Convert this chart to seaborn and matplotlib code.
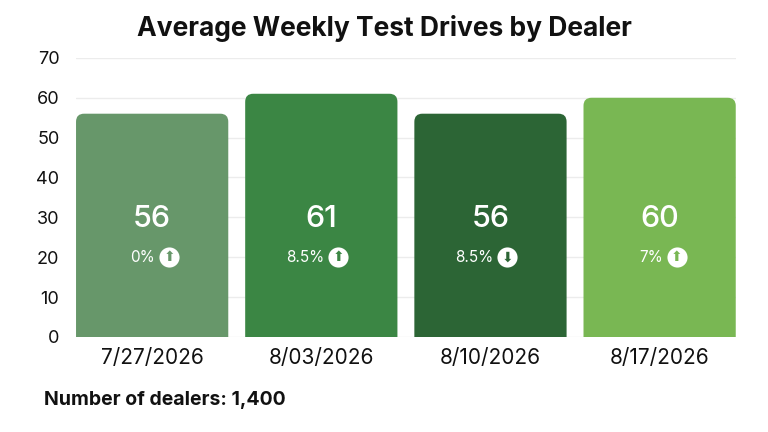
import matplotlib
matplotlib.use("Agg")
import matplotlib.pyplot as plt
import matplotlib.transforms as mtransforms
from matplotlib.patches import FancyBboxPatch
import seaborn as sns
import pandas as pd

# ===== data =====
weeks = ["7/27/2026", "8/03/2026", "8/10/2026", "8/17/2026"]
avg_drives = [56, 61, 56, 60]
pct_change = ["0%", "8.5%", "8.5%", "7%"]
direction = ["up", "up", "down", "up"]
bar_colors = ["#67976a", "#3b8644", "#2c6535", "#79b753"]
dealer_count = "1,400"

sns.set_theme(style="white")
plt.rcParams["font.family"] = ["Inter", "DejaVu Sans"]

df = pd.DataFrame({"week": weeks, "drives": avg_drives})

fig = plt.figure(figsize=(7.68, 4.32), dpi=100)
ax = fig.add_axes([0.099, 0.22, 0.859, 0.646])

sns.barplot(data=df, x="week", y="drives", hue="week", palette=bar_colors,
            width=0.9, saturation=1, legend=False, ax=ax)

ax.set_ylim(0, 70)
ax.set_xlim(-0.45, 3.45)
ax.set_yticks(range(0, 71, 10))
ax.yaxis.grid(True, color="#ececec", lw=1)
ax.set_axisbelow(True)
for s in ax.spines.values():
    s.set_visible(False)
ax.set_xlabel("")
ax.set_ylabel("")
ax.tick_params(axis="y", labelsize=13, pad=12, length=0, labelcolor="#111111")
ax.tick_params(axis="x", labelsize=15, pad=8, length=0, labelcolor="#111111")

# ===== rounded tops: replace each bar with a rounded box whose bottom is cut off by the axes =====
ax_w_px = 0.859 * 768
ax_h_px = 0.646 * 432
r_px = 8
rx = r_px / (ax_w_px / 3.9)
ry = r_px / (ax_h_px / 70)
for p, c in zip(ax.patches, bar_colors):
    x0, w, h = p.get_x(), p.get_width(), p.get_height()
    fb = FancyBboxPatch((x0, -3 * ry), w, h + 3 * ry,
                        boxstyle=f"round,pad=0,rounding_size={rx}",
                        mutation_aspect=ry / rx, fc=c, ec="none", lw=0,
                        zorder=p.get_zorder())
    ax.add_patch(fb)
    p.set_visible(False)

# ===== labels inside bars =====
def shift(px):
    return ax.transData + mtransforms.ScaledTranslation(px / 100, 0, fig.dpi_scale_trans)

for i, (v, pc, d, c) in enumerate(zip(avg_drives, pct_change, direction, bar_colors)):
    ax.text(i, 29.5, str(v), ha="center", va="center", color="white",
            fontsize=22, fontweight="medium", zorder=5)
    ax.text(i, 20, pc, ha="right", va="center", color="white",
            fontsize=11, transform=shift(3), zorder=5)
    ax.plot([i], [20], marker="o", ms=14.5, mfc="white", mec="none",
            transform=shift(17), zorder=5)
    ax.text(i, 20, "⬆" if d == "up" else "⬇", ha="center", va="center",
            color=c, fontsize=10, family="DejaVu Sans", transform=shift(17), zorder=6)

fig.text(0.501, 0.935, "Average Weekly Test Drives by Dealer", ha="center", va="center",
         fontsize=19, fontweight="bold", color="#111111")
fig.text(0.057, 0.074, f"Number of dealers: {dealer_count}", ha="left", va="center",
         fontsize=14, fontweight="bold", color="#111111")

fig.savefig("out.png", dpi=100)
